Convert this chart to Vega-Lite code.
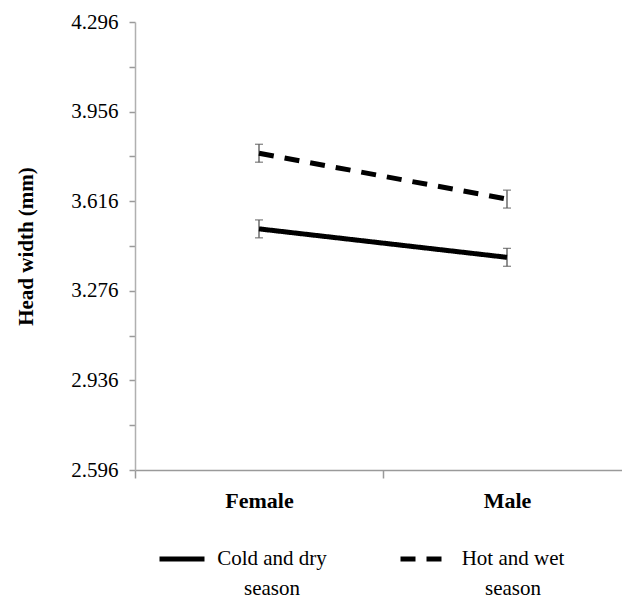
{
  "$schema": "https://vega.github.io/schema/vega-lite/v6.json",
  "autosize": "none",
  "padding": {"left": 135, "top": 22, "right": 0, "bottom": 130},
  "width": 487,
  "height": 448,
  "background": "white",
  "config": {"view": {"stroke": null}, "font": "Liberation Serif", "style": {"guide-label": {"lineHeight": 30}}},
  "data": {
    "values": [
      {"sex": "Female", "season": "Cold and dry season", "mean": 3.511, "lower": 3.477, "upper": 3.545},
      {"sex": "Male", "season": "Cold and dry season", "mean": 3.403, "lower": 3.369, "upper": 3.437},
      {"sex": "Female", "season": "Hot and wet season", "mean": 3.798, "lower": 3.764, "upper": 3.832},
      {"sex": "Male", "season": "Hot and wet season", "mean": 3.624, "lower": 3.590, "upper": 3.658}
    ]
  },
  "encoding": {
    "x": {
      "field": "sex", "type": "nominal", "sort": ["Female", "Male"],
      "scale": {"type": "band", "range": [0, 496], "paddingInner": 0, "paddingOuter": 0},
      "axis": {
        "title": null, "labelAngle": 0, "grid": false,
        "domainColor": "#9a9a9a", "domainWidth": 1.5, "tickColor": "#9a9a9a", "tickWidth": 1.5,
        "tickBand": "extent", "tickSize": 8,
        "labelFont": "Liberation Serif", "labelFontWeight": "bold", "labelFontSize": 22,
        "labelColor": "black", "labelPadding": 12
      }
    }
  },
  "layer": [
    {
      "mark": {"type": "errorbar", "ticks": {"size": 8, "thickness": 1.3}, "rule": {"strokeWidth": 1.3}, "color": "#555555"},
      "encoding": {
        "y": {"field": "lower", "type": "quantitative", "title": "Head width  (mm)"},
        "y2": {"field": "upper"},
        "detail": {"field": "season", "type": "nominal"}
      }
    },
    {
      "mark": {"type": "line", "strokeWidth": 5, "color": "black", "strokeCap": "butt"},
      "encoding": {
        "y": {
          "field": "mean", "type": "quantitative", "title": "Head width  (mm)",
          "scale": {"domain": [2.596, 4.296], "nice": false, "zero": false},
          "axis": {
            "title": "Head width  (mm)",
            "values": [2.596, 2.766, 2.936, 3.106, 3.276, 3.446, 3.616, 3.786, 3.956, 4.126, 4.296],
            "labelExpr": "round((datum.value - 2.596) / 0.17) % 2 == 0 ? format(datum.value, '.3f') : ''",
            "grid": false,
            "domainColor": "#b0b0b0", "domainWidth": 1.5, "tickColor": "#9a9a9a", "tickWidth": 1.5, "tickSize": 6,
            "labelFont": "Liberation Serif", "labelFontSize": 21, "labelColor": "black", "labelPadding": 11,
            "titleFont": "Liberation Serif", "titleFontSize": 21, "titleFontWeight": "bold", "titleColor": "black",
            "titlePadding": 34
          }
        },
        "strokeDash": {
          "field": "season", "type": "nominal",
          "scale": {"domain": ["Cold and dry season", "Hot and wet season"], "range": [[1, 0], [15, 11]]},
          "legend": {
            "title": null, "orient": "none", "direction": "horizontal",
            "legendX": 22, "legendY": 512,
            "symbolType": "stroke", "symbolSize": 2025, "symbolStrokeWidth": 5, "symbolStrokeColor": "black",
            "labelExpr": "datum.label == 'Cold and dry season' ? ['Cold and dry', 'season'] : ['Hot and wet', 'season']",
            "labelFont": "Liberation Serif", "labelFontSize": 21, "labelColor": "black",
            "labelAlign": "center", "labelLimit": 300, "labelOffset": 65, "columnPadding": 63
          }
        }
      }
    }
  ]
}
